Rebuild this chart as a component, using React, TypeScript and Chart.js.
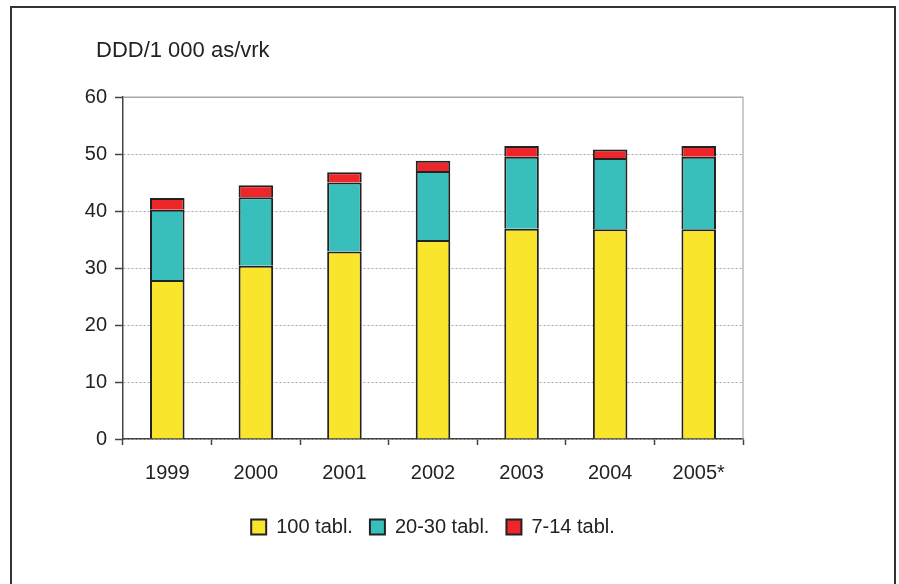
import { useEffect, useRef } from "react";
import { Chart, registerables } from "chart.js";

Chart.register(...registerables);

const categories = ["1999", "2000", "2001", "2002", "2003", "2004", "2005*"];
const tabl100 = [27.9, 30.4, 32.9, 34.9, 36.9, 36.8, 36.8];
const tabl2030 = [12.3, 12.0, 12.1, 12.1, 12.6, 12.5, 12.7];
const tabl714 = [2.1, 2.1, 1.8, 1.8, 1.9, 1.5, 1.9];
const seriesLabels = ["100 tabl.", "20-30 tabl.", "7-14 tabl."];
const seriesColors = ["#F9E52B", "#39BFBB", "#EE2529"];
const yMin = 0;
const yMax = 60;
const yStep = 10;
const unitLabel = "DDD/1 000 as/vrk";

const FONT = "'Liberation Sans', Arial, sans-serif";

const framePlugin = {
  id: "plotFrame",
  afterDraw(chart: any) {
    const { ctx, chartArea: a } = chart;
    const yTop = chart.scales.y.getPixelForValue(yMax);
    ctx.save();
    ctx.strokeStyle = "#a8a8a8";
    ctx.lineWidth = 1.2;
    ctx.beginPath();
    ctx.moveTo(a.left, yTop);
    ctx.lineTo(a.right, yTop);
    ctx.lineTo(a.right, a.bottom);
    ctx.stroke();
    ctx.fillStyle = "#222";
    ctx.font = `22px ${FONT}`;
    ctx.textBaseline = "alphabetic";
    ctx.textAlign = "left";
    ctx.fillText(unitLabel, 96, 57);
    ctx.restore();
  },
};

export default function App() {
  const ref = useRef<HTMLCanvasElement | null>(null);

  useEffect(() => {
    if (!ref.current) return;
    const values = [tabl100, tabl2030, tabl714];
    const chart = new Chart(ref.current, {
      type: "bar",
      data: {
        labels: categories,
        datasets: values.map((v, i) => ({
          label: seriesLabels[i],
          data: v,
          backgroundColor: seriesColors[i],
          borderColor: "#222",
          borderWidth: 2,
          barPercentage: 0.39,
          categoryPercentage: 1.0,
        })),
      },
      options: {
        responsive: false,
        animation: false,
        devicePixelRatio: 1,
        layout: { padding: { left: 0, right: 156, top: 97, bottom: 37 } },
        plugins: {
          title: { display: false },
          tooltip: { enabled: false },
          legend: {
            position: "bottom",
            fullSize: false,
            labels: {
              boxWidth: 15,
              boxHeight: 15,
              padding: 17,
              color: "#222",
              font: { family: FONT, size: 20 },
            },
          },
        },
        scales: {
          x: {
            stacked: true,
            grid: {
              display: true,
              drawOnChartArea: false,
              drawTicks: true,
              offset: true,
              tickLength: 6,
              tickColor: "#444",
              tickWidth: 1.5,
            },
            border: { display: true, color: "#444", width: 1.5 },
            ticks: { color: "#222", font: { family: FONT, size: 20 }, padding: 16 },
            afterFit(s: any) {
              s.height = 61;
            },
          },
          y: {
            stacked: true,
            min: yMin,
            max: yMax,
            ticks: {
              stepSize: yStep,
              color: "#222",
              font: { family: FONT, size: 20 },
              padding: 8,
            },
            grid: {
              color: "#a8a8a8",
              lineWidth: 1,
              tickColor: "#444",
              tickLength: 8,
              tickWidth: 1.5,
            },
            border: {
              display: true,
              color: "#444",
              width: 1.5,
              dash: (c: any) => (c.tick && c.tick.value === yMax ? [] : [2, 2]),
            },
            afterFit(s: any) {
              s.width = 123;
            },
          },
        },
      },
      plugins: [framePlugin],
    });
    return () => chart.destroy();
  }, []);

  return (
    <div
      style={{
        position: "fixed",
        left: 0,
        top: 0,
        width: 899,
        height: 584,
        background: "#fff",
        overflow: "hidden",
      }}
    >
      <div
        style={{
          position: "absolute",
          left: 10,
          top: 6,
          width: 882,
          height: 620,
          border: "2px solid #333",
        }}
      />
      <canvas
        ref={ref}
        width={899}
        height={584}
        style={{ position: "absolute", left: 0, top: 0, width: 899, height: 584 }}
      />
    </div>
  );
}
